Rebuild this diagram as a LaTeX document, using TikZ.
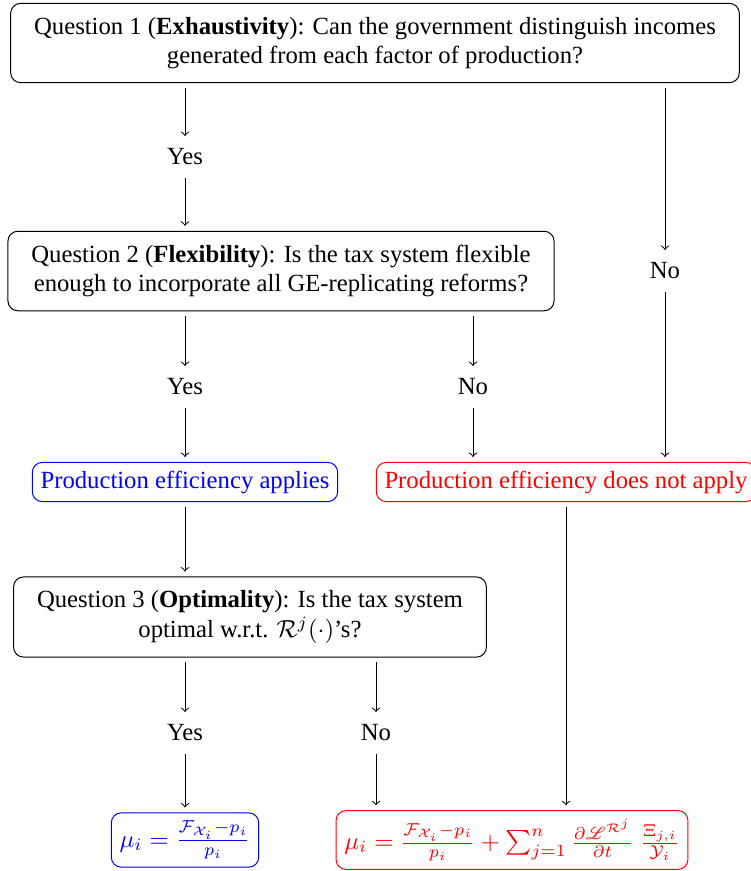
\documentclass[tikz,border=0pt]{standalone}
\usepackage{fontspec}
\setmainfont{Liberation Serif}
\usepackage{amsmath}
\usepackage{mathrsfs}
\usepackage{xcolor}

\begin{document}
\begin{tikzpicture}[x=0.405pt, y=-0.405pt,
  question/.style={draw, rounded corners=4pt, align=center, inner xsep=9.5pt, inner ysep=5.5pt},
  answer/.style={inner sep=3pt},
  good/.style={draw=blue, text=blue, rounded corners=4pt},
  bad/.style={draw=red, text=red, rounded corners=4pt},
  every path/.style={shorten <=2pt, shorten >=2pt}]
\useasboundingbox (0,0) rectangle (751,871);
% questions
\node[question] (q1) at (375,43) {Question 1 (\textbf{Exhaustivity}): Can the government distinguish incomes\\ generated from each factor of production?};
\node[question] (q2) at (281,271) {Question 2 (\textbf{Flexibility}): Is the tax system flexible\\ enough to incorporate all GE-replicating reforms?};
\node[question] (q3) at (250,617) {Question 3 (\textbf{Optimality}): Is the tax system\\ optimal w.r.t. $\mathcal{R}^j(\cdot)$'s?};
% answers
\node[answer] (yA) at (185,157) {Yes};
\node[answer] (noA) at (665,271) {No};
\node[answer] (yB) at (185,387) {Yes};
\node[answer] (noB) at (473,387) {No};
\node[answer] (yC) at (185,733) {Yes};
\node[answer] (noC) at (376,733) {No};
% outcomes
\node[good] (pe) at (185,482) {Production efficiency applies};
\node[bad] (npe) at (566,482) {Production efficiency does not apply};
\node[good] (muA) at (185,840) {$\mu_i=\frac{\mathcal{F}_{\mathcal{X}_i}-p_i}{p_i}$};
\node[bad] (muB) at (512,840) {$\mu_i=\frac{\mathcal{F}_{\mathcal{X}_i}-p_i}{p_i}+\sum_{j=1}^{n}\frac{\partial\mathscr{L}^{\mathcal{R}^j}}{\partial t}\ \frac{\Xi_{j,i}}{\mathcal{Y}_i}$};
% arrows
\foreach \src/\lab/\dst in {q1/yA/q2, q1/noA/npe, q2/yB/pe, q2/noB/npe, q3/yC/muA, q3/noC/muB} {
 \draw[->] (\src.south -| \lab) -- (\lab);
 \draw[->] (\lab) -- (\lab |- \dst.north);
}
\draw[->] (pe) -- (pe |- q3.north);
\draw[->] (npe.south) -- (npe.south |- muB.north);
\end{tikzpicture}
\end{document}
